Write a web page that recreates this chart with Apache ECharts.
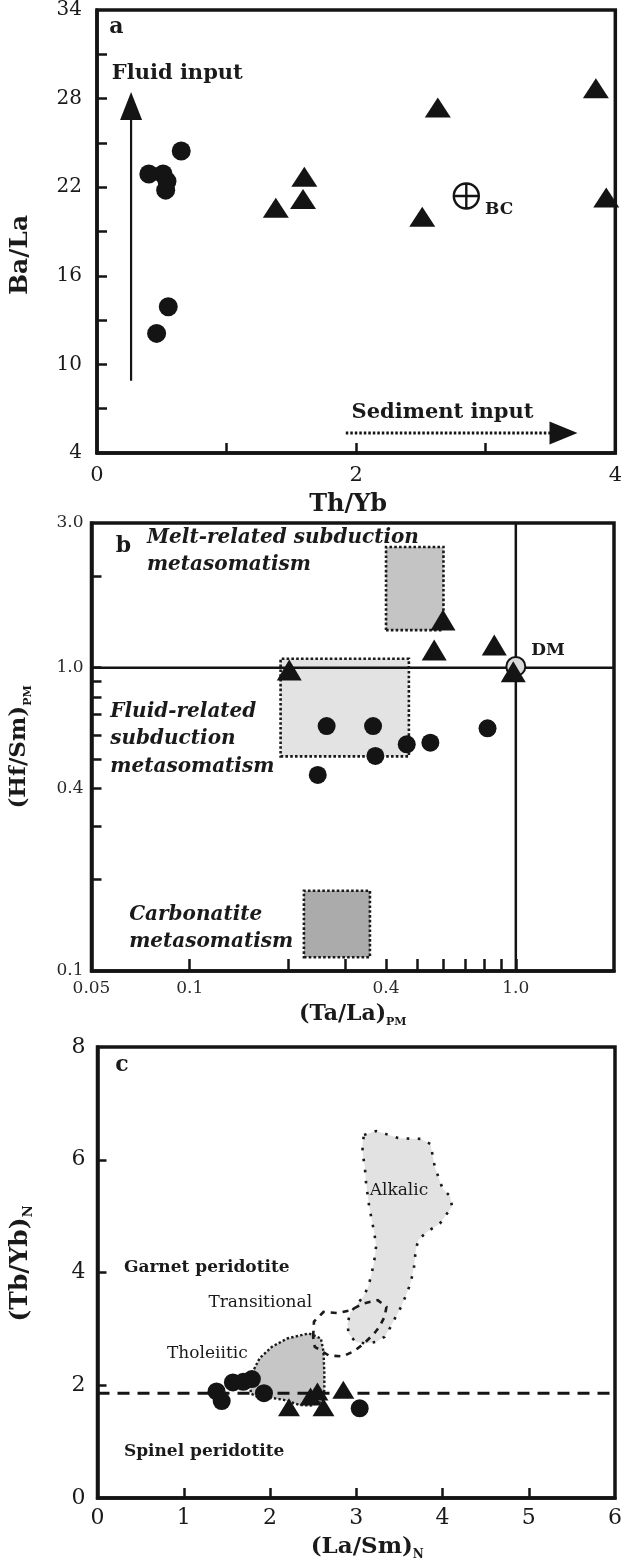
<!DOCTYPE html>
<html><head><meta charset="utf-8">
<script src="https://cdn.jsdelivr.net/npm/echarts@6/dist/echarts.min.js"></script>
<style>html,body{margin:0;padding:0;background:#fff}#c{width:625px;height:1564px}</style>
</head><body><div id="c"></div>
<script>
// ---------------- Panel a : Ba/La vs Th/Yb ----------------
const aCircles = [[0.40,22.9],[0.51,22.9],[0.54,22.4],[0.53,21.8],[0.65,24.45],[0.55,13.9],[0.46,12.1]];
const aTriangles = [[1.38,20.6],[1.60,22.7],[1.59,21.2],[2.63,27.4],[2.51,20.0],[3.85,28.7],[3.93,21.3]];
const aBC = [[2.85,21.4]];
const aXTicks = [1,2,3];
const aXLabels = [0,2,4];
const aYTicks = [7,10,13,16,19,22,25,28,31];
const aYLabels = [4,10,16,22,28,34];
const aFluidLine = [[0.263,8.9],[0.263,27.5]];
const aSedLine = [[1.92,5.36],[3.6,5.36]];
const aTexts = [
  {x:0.09, y:32.85, t:'a', s:'panel'},
  {x:0.11, y:29.7, t:'Fluid input', s:'bold'},
  {x:1.96, y:6.77, t:'Sediment input', s:'bold'},
  {x:2.99, y:20.5, t:'BC', s:'small'}
];

// ---------------- Panel b : (Hf/Sm)PM vs (Ta/La)PM (log-log) ----------------
const bCircles = [[0.263,0.642],[0.365,0.642],[0.463,0.559],[0.547,0.566],[0.819,0.631],[0.371,0.512],[0.247,0.443]];
const bTriangles = [[0.202,0.983],[0.562,1.144],[0.598,1.436],[0.859,1.188],[0.982,0.97]];
const bDM = [[1.0,1.01]];
const bMeltRect = [[0.40,1.33],[0.60,2.50]];
const bFluidRect = [[0.19,0.51],[0.47,1.07]];
const bCarbRect = [[0.224,0.111],[0.357,0.184]];
const bRefX = 1.0, bRefY = 1.0;
const bXTicks = [0.1,0.2,0.3,0.4,0.5,0.6,0.7,0.8,0.9,1.0];
const bXLabelVals = [0.05,0.1,0.4,1.0];
const bXLabelText = ['0.05','0.1','0.4','1.0'];
const bYTicks = [0.2,0.3,0.4,0.5,0.6,0.7,0.8,0.9,1.0,2.0];
const bYLabelVals = [0.1,0.4,1.0,3.0];
const bYLabelText = ['0.1','0.4','1.0','3.0'];
const bTexts = [
  {x:0.0591, y:2.52, t:'b', s:'panel'},
  {x:0.0737, y:2.677, t:'Melt-related subduction', s:'bi'},
  {x:0.0737, y:2.18, t:'metasomatism', s:'bi'},
  {x:0.0569, y:0.716, t:'Fluid-related', s:'bi'},
  {x:0.0569, y:0.585, t:'subduction', s:'bi'},
  {x:0.0569, y:0.4718, t:'metasomatism', s:'bi'},
  {x:0.065, y:0.153, t:'Carbonatite', s:'bi'},
  {x:0.065, y:0.125, t:'metasomatism', s:'bi'},
  {x:1.112, y:1.138, t:'DM', s:'dm'}
];

// ---------------- Panel c : (Tb/Yb)N vs (La/Sm)N ----------------
const cCircles = [[1.38,1.89],[1.44,1.72],[1.57,2.05],[1.69,2.06],[1.79,2.11],[1.93,1.86],[3.04,1.59]];
const cTriangles = [[2.22,1.61],[2.47,1.80],[2.55,1.89],[2.62,1.61],[2.85,1.92]];
const cGarnetSpinelY = 1.86;
const cAlkalic = [[3.09,6.44],[3.23,6.51],[3.5,6.38],[3.75,6.37],[3.86,6.28],[3.91,5.88],[4.0,5.49],[4.09,5.35],[4.11,5.17],[3.97,4.87],[3.82,4.72],[3.72,4.58],[3.69,4.40],[3.67,4.10],[3.63,3.81],[3.57,3.57],[3.52,3.39],[3.46,3.22],[3.40,3.04],[3.33,2.86],[3.23,2.77],[3.12,2.74],[2.99,2.77],[2.91,2.92],[2.90,3.10],[2.93,3.28],[3.0,3.42],[3.08,3.57],[3.14,3.75],[3.18,3.99],[3.21,4.22],[3.23,4.46],[3.21,4.70],[3.18,4.93],[3.15,5.17],[3.13,5.40],[3.11,5.64],[3.10,5.88],[3.08,6.05],[3.07,6.26]];
const cTransitional = [[2.50,2.86],[2.51,3.13],[2.62,3.30],[2.78,3.28],[2.93,3.33],[3.08,3.45],[3.25,3.51],[3.35,3.39],[3.33,3.22],[3.27,3.04],[3.21,2.92],[3.09,2.74],[2.97,2.60],[2.84,2.51],[2.68,2.53],[2.52,2.68]];
const cTholeiitic = [[1.77,1.97],[1.79,2.21],[1.88,2.48],[2.02,2.68],[2.20,2.83],[2.45,2.92],[2.59,2.83],[2.62,2.60],[2.63,2.21],[2.63,1.92],[2.61,1.71],[2.47,1.64],[2.34,1.65],[2.16,1.74],[2.04,1.77],[1.85,1.80],[1.78,1.85]];
const cXTicks = [1,2,3,4,5];
const cXLabels = [0,1,2,3,4,5,6];
const cYTicks = [2,4,6];
const cYLabels = [0,2,4,6,8];
const cTexts = [
  {x:0.2, y:7.68, t:'c', s:'panel'},
  {x:3.15, y:5.46, t:'Alkalic', s:'reg'},
  {x:1.28, y:3.46, t:'Transitional', s:'reg'},
  {x:0.80, y:2.57, t:'Tholeiitic', s:'reg'},
  {x:0.30, y:4.08, t:'Garnet peridotite', s:'cbold'},
  {x:0.30, y:0.82, t:'Spinel peridotite', s:'cbold'}
];

// ---------------- styling / builders ----------------
const FONT = 'DejaVu Serif';
const INK = '#141414';
const TXT = '#1a1a1a';

const textStyles = {
  panel: {fontSize:22, fontWeight:'bold'},
  bold: {fontSize:21, fontWeight:'bold'},
  small: {fontSize:17, fontWeight:'bold'},
  bi: {fontSize:20, fontWeight:'bold', fontStyle:'italic'},
  dm: {fontSize:17, fontWeight:'bold'},
  reg: {fontSize:17},
  cbold: {fontSize:17, fontWeight:'bold'}
};

function fmtFrom(vals, texts) {
  return function (v) {
    for (let i = 0; i < vals.length; i++) {
      if (Math.abs(v - vals[i]) < 1e-6 * Math.max(1, Math.abs(vals[i]))) return texts[i];
    }
    return '';
  };
}

function axisBase(gi, o) {
  return Object.assign({
    gridIndex: gi,
    axisLine: {show: true, onZero: false, lineStyle: {color: INK, width: 3.5}},
    splitLine: {show: false},
    axisTick: {show: true, inside: true, length: 10, lineStyle: {color: INK, width: 2.5}},
    axisLabel: {fontFamily: FONT, color: TXT},
    nameLocation: 'middle',
    nameTextStyle: {fontFamily: FONT, fontWeight: 'bold', color: TXT}
  }, o);
}

function scatter(gi, data, symbol, size, z) {
  return {type: 'scatter', xAxisIndex: gi, yAxisIndex: gi, data: data, symbol: symbol, symbolSize: size,
    itemStyle: {color: INK, opacity: 1}, z: z || 5, silent: true, clip: false};
}

function texts(gi, list) {
  return list.map(function (t) {
    return {type: 'scatter', xAxisIndex: gi, yAxisIndex: gi, silent: true, z: 8, clip: false,
      symbolSize: 1, itemStyle: {color: 'rgba(0,0,0,0)', opacity: 1},
      data: [{name: t.t, value: [t.x, t.y]}],
      label: Object.assign({show: true, position: 'right', distance: 0, formatter: '{b}',
        fontFamily: FONT, color: TXT, opacity: 1}, textStyles[t.s])};
  });
}

function poly(gi, pts, style, z) {
  return {type: 'custom', xAxisIndex: gi, yAxisIndex: gi, silent: true, z: z || 2, clip: false,
    data: [pts[0]],
    renderItem: function (p, api) {
      return {type: 'polygon', shape: {points: pts.map(function (q) { return api.coord(q); })}, style: style};
    }};
}
function rectPts(r) { return [[r[0][0], r[0][1]], [r[1][0], r[0][1]], [r[1][0], r[1][1]], [r[0][0], r[1][1]]]; }

function line(gi, data, ls, z) {
  return {type: 'line', xAxisIndex: gi, yAxisIndex: gi, data: data, silent: true, z: z || 4,
    showSymbol: true, symbol: 'none', itemStyle: {color: INK, opacity: 1}, lineStyle: Object.assign({color: INK, width: 2.2}, ls)};
}

const dotted = {stroke: '#1a1a1a', lineWidth: 2.6, lineDash: [2.6, 2.2]};

const option = {
  animation: false,
  backgroundColor: '#fff',
  grid: [
    {left: 90, top: 6, width: 529, height: 447, show: true, borderColor: INK, borderWidth: 3.5},
    {left: 86, top: 523, width: 528, height: 448, show: true, borderColor: INK, borderWidth: 3.5},
    {left: 90, top: 1047, width: 526, height: 451, show: true, borderColor: INK, borderWidth: 3.5}
  ],
  xAxis: [
    axisBase(0, {type: 'value', min: 0, max: 4,
      axisTick: {show: true, inside: true, length: 10, lineStyle: {color: INK, width: 2.5}, customValues: aXTicks},
      axisLabel: {fontFamily: FONT, color: TXT, fontSize: 21, margin: 12, customValues: aXLabels},
      name: 'Th/Yb', nameGap: 40,
      nameTextStyle: {fontFamily: FONT, fontWeight: 'bold', color: TXT, fontSize: 24, padding: [0, 16, 0, 0]}}),
    axisBase(1, {type: 'log', logBase: 10, min: 0.05, max: 2,
      axisTick: {show: true, inside: true, length: 12, lineStyle: {color: INK, width: 2.5}, customValues: bXTicks},
      axisLabel: {fontFamily: FONT, color: '#2a2a2a', fontSize: 17, margin: 9, customValues: bXLabelVals,
        formatter: fmtFrom(bXLabelVals, bXLabelText)},
      name: '{m|(Ta/La)}{s|PM}', nameGap: 29,
      nameTextStyle: {fontFamily: FONT, fontWeight: 'bold', color: TXT,
        rich: {m: {fontFamily: FONT, fontWeight: 'bold', fontSize: 22, lineHeight: 28, color: TXT},
               s: {fontFamily: FONT, fontWeight: 'bold', fontSize: 11, lineHeight: 12, verticalAlign: 'bottom', color: TXT}}}}),
    axisBase(2, {type: 'value', min: 0, max: 6,
      axisTick: {show: true, inside: true, length: 10, lineStyle: {color: INK, width: 2.5}, customValues: cXTicks},
      axisLabel: {fontFamily: FONT, color: TXT, fontSize: 22, margin: 9, customValues: cXLabels},
      name: '{m|(La/Sm)}{s|N}', nameGap: 35,
      nameTextStyle: {fontFamily: FONT, fontWeight: 'bold', color: TXT, padding: [0, 0, 0, 22],
        rich: {m: {fontFamily: FONT, fontWeight: 'bold', fontSize: 23, lineHeight: 28, color: TXT},
               s: {fontFamily: FONT, fontWeight: 'bold', fontSize: 12, lineHeight: 12, verticalAlign: 'bottom', color: TXT}}}})
  ],
  yAxis: [
    axisBase(0, {type: 'value', min: 4, max: 34,
      axisTick: {show: true, inside: true, length: 10, lineStyle: {color: INK, width: 2.5}, customValues: aYTicks},
      axisLabel: {fontFamily: FONT, color: TXT, fontSize: 20, margin: 15, customValues: aYLabels},
      name: 'Ba/La', nameGap: 64, nameRotate: 90,
      nameTextStyle: {fontFamily: FONT, fontWeight: 'bold', color: TXT, fontSize: 25, padding: [0, 47, 0, 0]}}),
    axisBase(1, {type: 'log', logBase: 10, min: 0.1, max: 3,
      axisTick: {show: true, inside: true, length: 10, lineStyle: {color: INK, width: 2.5}, customValues: bYTicks},
      axisLabel: {fontFamily: FONT, color: '#2a2a2a', fontSize: 17, margin: 8, customValues: bYLabelVals,
        formatter: fmtFrom(bYLabelVals, bYLabelText)},
      name: '{m|(Hf/Sm)}{s|PM}', nameGap: 58, nameRotate: 90,
      nameTextStyle: {fontFamily: FONT, fontWeight: 'bold', color: TXT,
        rich: {m: {fontFamily: FONT, fontWeight: 'bold', fontSize: 23, lineHeight: 28, color: TXT},
               s: {fontFamily: FONT, fontWeight: 'bold', fontSize: 11, lineHeight: 12, verticalAlign: 'bottom', color: TXT}}}}),
    axisBase(2, {type: 'value', min: 0, max: 8,
      axisTick: {show: true, inside: true, length: 9, lineStyle: {color: INK, width: 2.5}, customValues: cYTicks},
      axisLabel: {fontFamily: FONT, color: TXT, fontSize: 22, margin: 12, customValues: cYLabels},
      name: '{m|(Tb/Yb)}{s|N}', nameGap: 62, nameRotate: 90,
      nameTextStyle: {fontFamily: FONT, fontWeight: 'bold', color: TXT, padding: [0, 0, 0, 18],
        rich: {m: {fontFamily: FONT, fontWeight: 'bold', fontSize: 25, lineHeight: 30, color: TXT},
               s: {fontFamily: FONT, fontWeight: 'bold', fontSize: 13, lineHeight: 13, verticalAlign: 'bottom', color: TXT}}}})
  ],
  series: [].concat(
    // panel a
    [
      line(0, [{value: aFluidLine[0], symbol: 'none'},
               {value: aFluidLine[1], symbol: 'triangle', symbolSize: [22, 28]}], {width: 2.2}),
      line(0, [{value: aSedLine[0], symbol: 'none'},
               {value: aSedLine[1], symbol: 'triangle', symbolSize: [23, 28], symbolRotate: -90}],
           {width: 3, type: [2.5, 2]}),
      scatter(0, aCircles, 'circle', 19),
      scatter(0, aTriangles, 'triangle', [26, 20]),
      Object.assign(scatter(0, aBC, 'path://M0,-10A10,10 0 1,1 0,10A10,10 0 1,1 0,-10Z M-10,0L10,0 M0,-10L0,10', 25),
        {itemStyle: {color: 'rgba(0,0,0,0)', borderColor: INK, borderWidth: 2.4, opacity: 1}})
    ],
    texts(0, aTexts),
    // panel b
    [
      poly(1, rectPts(bMeltRect), Object.assign({fill: '#c4c4c4'}, dotted)),
      poly(1, rectPts(bFluidRect), Object.assign({fill: '#e3e3e3'}, dotted)),
      poly(1, rectPts(bCarbRect), Object.assign({fill: '#ababab'}, dotted)),
      line(1, [[bRefX, 0.1], [bRefX, 3]], {width: 2.5}, 3),
      line(1, [[0.05, bRefY], [2, bRefY]], {width: 2.5}, 3),
      scatter(1, bCircles, 'circle', 18),
      scatter(1, bTriangles, 'triangle', [25, 21], 6),
      Object.assign(scatter(1, bDM, 'circle', 19, 5), {itemStyle: {color: '#dadada', borderColor: INK, borderWidth: 2, opacity: 1}})
    ],
    texts(1, bTexts),
    // panel c
    [
      poly(2, cAlkalic, {fill: '#e2e2e2', stroke: '#1a1a1a', lineWidth: 2.6, lineDash: [2.6, 8.5]}),
      poly(2, cTholeiitic, {fill: '#c6c6c6', stroke: '#1a1a1a', lineWidth: 2.4, lineDash: [2.4, 2.2]}),
      poly(2, cTransitional, {fill: 'rgba(0,0,0,0)', stroke: '#1a1a1a', lineWidth: 2.6, lineDash: [6, 6]}, 3),
      line(2, [[0, cGarnetSpinelY], [6, cGarnetSpinelY]], {width: 3, type: [12, 8]}, 4),
      scatter(2, cCircles, 'circle', 18),
      scatter(2, cTriangles, 'triangle', [22, 18], 6)
    ],
    texts(2, cTexts)
  )
};

const chart = echarts.init(document.getElementById('c'), null, {renderer: 'canvas'});
chart.setOption(option);
</script>
</body></html>
